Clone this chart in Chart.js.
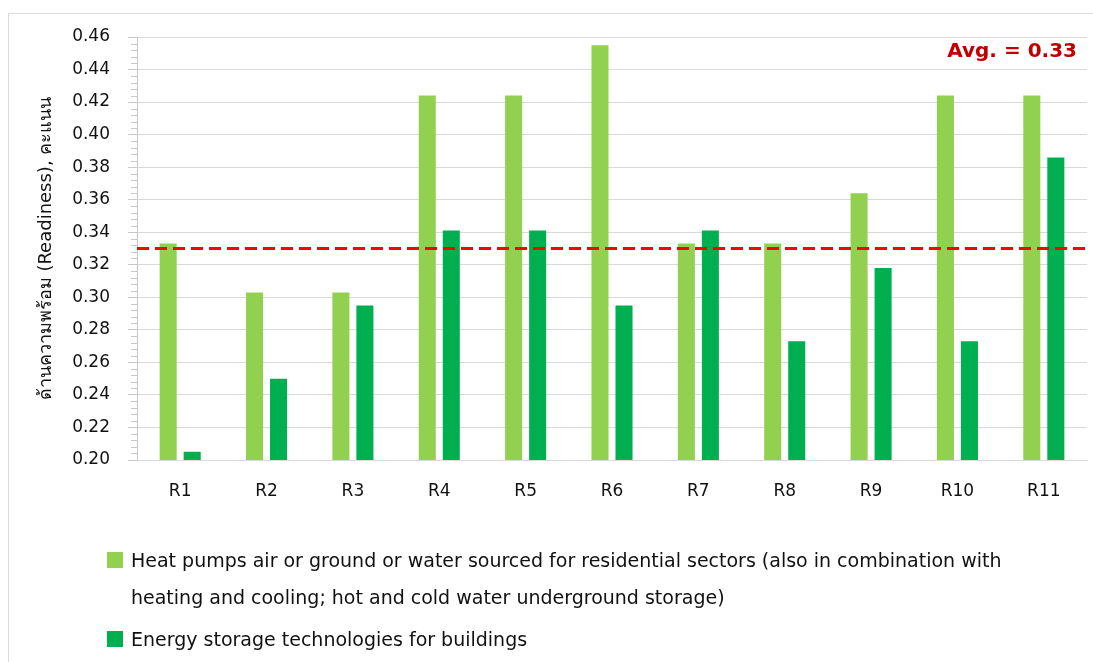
<!DOCTYPE html>
<html>
<head>
<meta charset="utf-8">
<script src="https://cdn.jsdelivr.net/npm/chart.js@4.4.0/dist/chart.umd.min.js"></script>
<style>
  html, body { margin: 0; padding: 0; background: #fff; overflow: hidden; }
  #frame { position: absolute; left: 8px; top: 13px; width: 1200px; height: 800px;
           border-left: 1px solid #d9d9d9; border-top: 1px solid #d9d9d9; }
  #wrap { position: absolute; left: 0; top: 0; width: 1093px; height: 662px; }
  .leg { position: absolute; font-family: 'DejaVu Sans', sans-serif; font-size: 19px;
         color: #111; white-space: nowrap; }
  .leg .box { position: absolute; left: 0; width: 16px; height: 16px; }
  .leg .txt { position: absolute; left: 24px; line-height: 37px; }
</style>
</head>
<body>
<div id="frame"></div>
<div id="wrap"><canvas id="grafico" width="1093" height="662"></canvas></div>
<div id="legend"></div>

<script>
// regions on the x axis
var categorias = ['R1', 'R2', 'R3', 'R4', 'R5', 'R6', 'R7', 'R8', 'R9', 'R10', 'R11'];

// readiness score per region
var bombasCalor = [0.333, 0.303, 0.303, 0.424, 0.424, 0.455, 0.333, 0.333, 0.364, 0.424, 0.424];
var armazenamento = [0.205, 0.250, 0.295, 0.341, 0.341, 0.295, 0.341, 0.273, 0.318, 0.273, 0.386];

var nomesSeries = [
    'Heat pumps air or ground or water sourced for residential sectors (also in combination with\nheating and cooling; hot and cold water underground storage)',
    'Energy storage technologies for buildings'
];
var coresSeries = ['#92D050', '#00B050'];

var media = 0.33;
var eixoMin = 0.20;
var eixoMax = 0.46;
var eixoPasso = 0.02;
var tituloEixoY = 'ด้านความพร้อม (Readiness), คะแนน';

// small tick marks between the labelled ticks
var ticksMenores = {
    id: 'ticksMenores',
    afterDraw: function (chart) {
        var y = chart.scales.y;
        var ctx = chart.ctx;
        var x0 = chart.chartArea.left;
        var passo = eixoPasso / 5;
        ctx.save();
        ctx.strokeStyle = '#c8c8c8';
        ctx.lineWidth = 1;
        for (var i = 1; i < Math.round((eixoMax - eixoMin) / passo); i++) {
            if (i % 5 === 0) continue;
            var py = Math.round(y.getPixelForValue(eixoMin + i * passo)) + 0.5;
            ctx.beginPath();
            ctx.moveTo(x0 - 6, py);
            ctx.lineTo(x0, py);
            ctx.stroke();
        }
        ctx.restore();
    }
};

// dashed average line + its label
var linhaMedia = {
    id: 'linhaMedia',
    afterDatasetsDraw: function (chart) {
        var y = chart.scales.y;
        var area = chart.chartArea;
        var ctx = chart.ctx;
        var py = y.getPixelForValue(media);
        ctx.save();
        ctx.strokeStyle = '#FF0000';
        ctx.lineWidth = 3;
        ctx.setLineDash([12, 6]);
        ctx.beginPath();
        ctx.moveTo(area.left, py);
        ctx.lineTo(area.right + 3, py);
        ctx.stroke();
        ctx.setLineDash([]);
        ctx.fillStyle = '#C00000';
        ctx.font = 'bold 20px "DejaVu Sans", sans-serif';
        ctx.textAlign = 'right';
        ctx.textBaseline = 'middle';
        ctx.fillText('Avg. = ' + media.toFixed(2), area.right - 10, area.top + 15);
        ctx.restore();
    }
};

var ctx = document.getElementById('grafico').getContext('2d');
new Chart(ctx, {
    type: 'bar',
    data: {
        labels: categorias,
        datasets: [{
            label: nomesSeries[0],
            data: bombasCalor,
            backgroundColor: coresSeries[0],
            categoryPercentage: 0.556,
            barPercentage: 0.71
        }, {
            label: nomesSeries[1],
            data: armazenamento,
            backgroundColor: coresSeries[1],
            categoryPercentage: 0.556,
            barPercentage: 0.71
        }]
    },
    options: {
        responsive: false,
        animation: false,
        layout: {
            padding: { left: 30, top: 37, right: 6, bottom: 157 }
        },
        plugins: {
            legend: { display: false },
            tooltip: { enabled: false }
        },
        scales: {
            x: {
                grid: { display: false, drawTicks: false },
                border: { color: '#d9d9d9' },
                ticks: {
                    color: '#111',
                    font: { family: 'DejaVu Sans', size: 17 },
                    padding: 21
                },
                afterFit: function (scale) { scale.height = 45; }
            },
            y: {
                min: eixoMin,
                max: eixoMax,
                grid: { color: '#d9d9d9', tickColor: '#c8c8c8', tickLength: 9 },
                border: { color: '#c8c8c8' },
                ticks: {
                    stepSize: eixoPasso,
                    color: '#111',
                    font: { family: 'DejaVu Sans', size: 17 },
                    padding: 18,
                    callback: function (v) { return Number(v).toFixed(2); }
                },
                title: {
                    display: true,
                    text: tituloEixoY,
                    color: '#111',
                    font: { family: 'DejaVu Sans', size: 18 },
                    padding: { top: 6, bottom: 0 }
                },
                afterFit: function (scale) { scale.width = 107; }
            }
        }
    },
    plugins: [ticksMenores, linhaMedia]
});

// legend below the chart, built from the series names and colours
var legenda = document.getElementById('legend');
var topos = [542, 621];
nomesSeries.forEach(function (nome, i) {
    var item = document.createElement('div');
    item.className = 'leg';
    item.style.left = '107px';
    item.style.top = topos[i] + 'px';
    var caixa = document.createElement('div');
    caixa.className = 'box';
    caixa.style.background = coresSeries[i];
    caixa.style.top = '10px';
    var texto = document.createElement('div');
    texto.className = 'txt';
    texto.style.top = '0px';
    nome.split('\n').forEach(function (linha, j) {
        if (j > 0) texto.appendChild(document.createElement('br'));
        texto.appendChild(document.createTextNode(linha));
    });
    item.appendChild(caixa);
    item.appendChild(texto);
    legenda.appendChild(item);
});
</script>
</body>
</html>
